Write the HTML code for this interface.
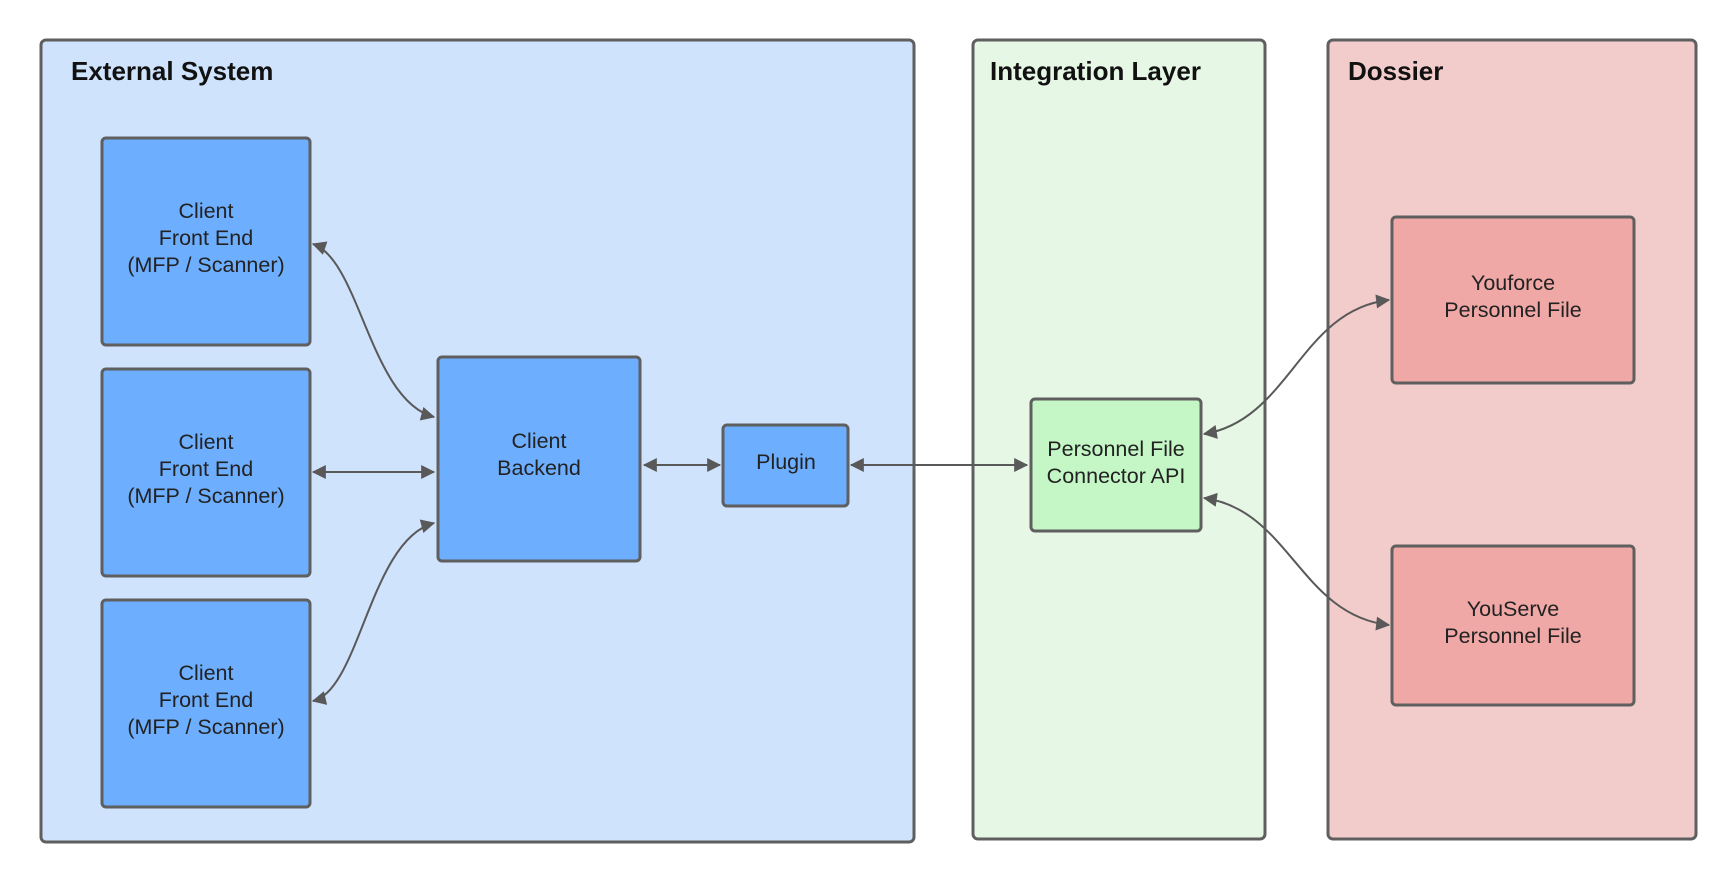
<!DOCTYPE html>
<html><head><meta charset="utf-8"><style>
html,body{margin:0;padding:0;background:#fff;}
svg{display:block;}
text{font-family:"Liberation Sans",sans-serif;fill:#222;}
.t{font-size:26px;font-weight:bold;fill:#111;}
.n{font-size:21.5px;text-anchor:middle;}
</style></head><body>
<svg width="1736" height="883" viewBox="0 0 1736 883" xmlns="http://www.w3.org/2000/svg">
<defs>
<marker id="m" viewBox="0 0 12 12" refX="11" refY="6" markerWidth="20" markerHeight="14" orient="auto-start-reverse" markerUnits="userSpaceOnUse"><path d="M0,0 L12,6 L0,12 z" fill="#595959"/></marker>
</defs>
<g stroke="#5f5f5f" stroke-width="3">
<rect x="41" y="40" width="873" height="802" rx="5" fill="#cfe3fd"/>
<rect x="973" y="40" width="292" height="799" rx="5" fill="#e6f7e6"/>
<rect x="1328" y="40" width="368" height="799" rx="5" fill="#f2cbcb"/>
<rect x="102" y="138" width="208" height="207" rx="4" fill="#6daeff"/>
<rect x="102" y="369" width="208" height="207" rx="4" fill="#6daeff"/>
<rect x="102" y="600" width="208" height="207" rx="4" fill="#6daeff"/>
<rect x="438" y="357" width="202" height="204" rx="4" fill="#6daeff"/>
<rect x="723" y="425" width="125" height="81" rx="4" fill="#6daeff"/>
<rect x="1031" y="399" width="170" height="132" rx="4" fill="#c4f6c6"/>
<rect x="1392" y="217" width="242" height="166" rx="4" fill="#efa8a6"/>
<rect x="1392" y="546" width="242" height="159" rx="4" fill="#efa8a6"/>
</g>
<text class="t" x="71" y="80">External System</text>
<text class="t" x="990" y="80">Integration Layer</text>
<text class="t" x="1348" y="80">Dossier</text>
<g>
<text class="n" x="206" y="218">Client</text><text class="n" x="206" y="245">Front End</text><text class="n" x="206" y="272">(MFP / Scanner)</text>
<text class="n" x="206" y="449">Client</text><text class="n" x="206" y="476">Front End</text><text class="n" x="206" y="503">(MFP / Scanner)</text>
<text class="n" x="206" y="680">Client</text><text class="n" x="206" y="707">Front End</text><text class="n" x="206" y="734">(MFP / Scanner)</text>
<text class="n" x="539" y="448">Client</text><text class="n" x="539" y="475">Backend</text>
<text class="n" x="786" y="469">Plugin</text>
<text class="n" x="1116" y="456">Personnel File</text><text class="n" x="1116" y="483">Connector API</text>
<text class="n" x="1513" y="290">Youforce</text><text class="n" x="1513" y="317">Personnel File</text>
<text class="n" x="1513" y="616">YouServe</text><text class="n" x="1513" y="643">Personnel File</text>
</g>
<g stroke="#595959" stroke-width="2" fill="none" marker-start="url(#m)" marker-end="url(#m)">
<path d="M313,244 C360,260 370,400 434,417"/>
<path d="M313,472 L434,472"/>
<path d="M313,701 C360,690 370,540 434,523"/>
<path d="M644,465 L720,465"/>
<path d="M851,465 L1027,465"/>
<path d="M1204,434 C1290,420 1300,310 1389,300"/>
<path d="M1204,498 C1290,510 1300,615 1389,625"/>
</g>
</svg>
</body></html>
